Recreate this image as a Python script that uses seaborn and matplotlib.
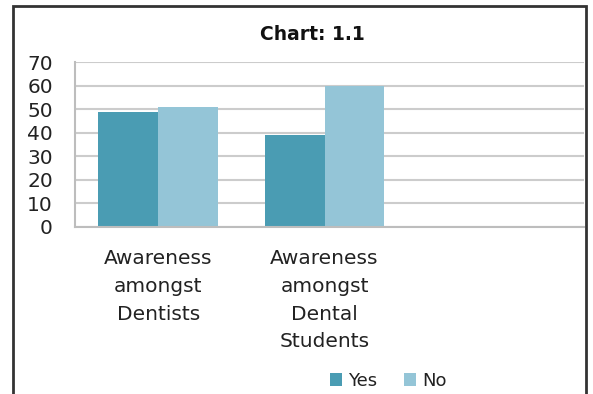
import matplotlib
matplotlib.use("Agg")
import matplotlib.pyplot as plt
import seaborn as sns
import pandas as pd
from matplotlib.patches import Patch, Rectangle

# ---- data ----
categories = ["Awareness\namongst\nDentists", "Awareness\namongst\nDental\nStudents", " "]
series = ["Yes", "No"]
yes_values = [49, 39]
no_values = [51, 60]
y_ticks = [0, 10, 20, 30, 40, 50, 60, 70]
title = "Chart: 1.1"

colors = {"Yes": "#4a9cb3", "No": "#94c5d7"}

df = pd.DataFrame({
    "category": categories[:2] * 2,
    "series": ["Yes"] * 2 + ["No"] * 2,
    "value": yes_values + no_values,
})

sns.set_style("white")
plt.rcParams["font.family"] = ["DejaVu Sans"]

W, H = 593, 394
fig = plt.figure(figsize=(W / 100, H / 100), dpi=100)
ax = fig.add_axes([75 / W, 1 - 227 / H, (584 - 75) / W, (227 - 62) / H])

sns.barplot(data=df, x="category", y="value", hue="series", order=categories,
            hue_order=series, palette=colors, width=0.72, saturation=1,
            ax=ax, legend=False, errorbar=None, linewidth=0)

ax.set_xlim(-0.5, 2.56)
ax.set_ylim(0, 70)
ax.set_yticks(y_ticks)
ax.set_xlabel("")
ax.set_ylabel("")
ax.set_axisbelow(True)
ax.yaxis.grid(True, color="#cccccc", linewidth=1.5)
ax.xaxis.grid(False)
for s in ["top", "right"]:
    ax.spines[s].set_visible(False)
for s in ["left", "bottom"]:
    ax.spines[s].set_color("#bdbdbd")
    ax.spines[s].set_linewidth(1.5)
ax.tick_params(axis="y", length=0, pad=16, labelsize=14.5, labelcolor="#222222")
ax.tick_params(axis="x", length=0, pad=16, labelsize=14.5, labelcolor="#222222")
for lab in ax.get_xticklabels():
    lab.set_linespacing(1.58)

fig.text(312 / W, 1 - 34 / H, title, ha="center", va="center",
         fontsize=13.5, fontweight="bold", color="#111111")

handles = [Patch(facecolor=colors[s], edgecolor="none", label=s) for s in series]
fig.legend(handles=handles, loc="center", bbox_to_anchor=(388 / W, 1 - 381 / H),
           ncol=2, frameon=False, fontsize=13, handlelength=0.7, handleheight=0.7,
           handletextpad=0.3, columnspacing=1.5, labelcolor="#222222")

fig.patches.append(Rectangle((13 / W, -0.02), (586 - 13) / W, 1.02 - 6 / H,
                             transform=fig.transFigure, fill=False,
                             edgecolor="#333333", linewidth=2))

fig.savefig("out.png", dpi=100, facecolor="white")
